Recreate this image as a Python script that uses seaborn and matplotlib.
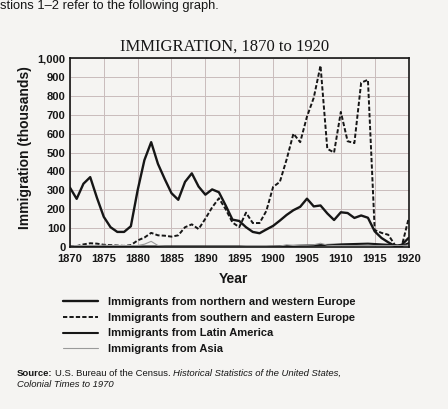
import pandas as pd
import numpy as np
import matplotlib
matplotlib.use('Agg')
import matplotlib.pyplot as plt
import seaborn as sns

# data (thousands of immigrants per year)
years = list(range(1870, 1921))
north_west = [315, 255, 335, 370, 260, 160, 105, 80, 80, 110,
              300, 460, 555, 440, 360, 285, 250, 345, 390, 320,
              277, 305, 290, 220, 145, 138, 105, 80, 73, 93,
              112, 140, 170, 195, 213, 256, 215, 220, 178, 143,
              184, 180, 154, 167, 155, 83, 48, 25, 5, 12,
              48]
south_east = [5, 5, 14, 20, 18, 12, 10, 8, 6, 10,
              35, 50, 75, 62, 60, 55, 62, 105, 120, 95,
              150, 210, 258, 200, 130, 105, 182, 127, 127, 191,
              318, 345, 464, 600, 555, 690, 790, 960, 520, 500,
              715, 560, 550, 870, 885, 90, 75, 65, 10, 5,
              150]
latin_america = [2, 2, 2, 2, 2, 2, 2, 2, 2, 2,
                 3, 3, 3, 3, 3, 3, 3, 3, 3, 3,
                 3, 3, 3, 3, 3, 3, 2, 2, 2, 2,
                 3, 4, 5, 6, 7, 8, 9, 10, 11, 12,
                 14, 15, 16, 17, 18, 16, 14, 12, 8, 6,
                 20]
asia = [5, 8, 8, 8, 8, 10, 8, 8, 8, 8,
        8, 15, 30, 8, 3, 2, 2, 2, 2, 2,
        3, 3, 3, 3, 3, 3, 3, 3, 3, 3,
        5, 5, 12, 8, 10, 10, 12, 20, 10, 8,
        8, 8, 8, 8, 8, 8, 8, 8, 8, 8,
        10]

groups = ['Immigrants from northern and western Europe',
          'Immigrants from southern and eastern Europe',
          'Immigrants from Latin America',
          'Immigrants from Asia']
x_ticks = list(range(1870, 1921, 5))
y_ticks = list(range(0, 1001, 100))
y_tick_labels = [f'{v:,}' for v in y_ticks]

df = pd.DataFrame({'Year': years,
                   groups[0]: north_west,
                   groups[1]: south_east,
                   groups[2]: latin_america,
                   groups[3]: asia})
long_df = df.melt(id_vars='Year', var_name='Group', value_name='Immigration')

sns.set_theme(style='white')
plt.rcParams['font.family'] = ['Liberation Sans', 'DejaVu Sans']

bg = '#f5f4f2'
ink = '#161616'
fig = plt.figure(figsize=(4.48, 4.09), dpi=100, facecolor=bg)
ax = fig.add_axes([0.156, 0.396, 0.756, 0.462])
ax.set_facecolor(bg)

line_styles = {
    groups[0]: dict(color=ink, lw=1.7, dashes=None),
    groups[1]: dict(color=ink, lw=1.4, dashes=(2.2, 1.1)),
    groups[2]: dict(color=ink, lw=1.5, dashes=None),
    groups[3]: dict(color='#9a9a9a', lw=0.8, dashes=None),
}

for name in groups:
    st = line_styles[name]
    sub = long_df[long_df['Group'] == name]
    sns.lineplot(data=sub, x='Year', y='Immigration', ax=ax, color=st['color'],
                 linewidth=st['lw'], label=name, legend=False)
    if st['dashes'] is not None:
        ax.lines[-1].set_dashes(st['dashes'])

ax.set_xlim(1870, 1920)
ax.set_ylim(0, 1000)
ax.set_xticks(x_ticks)
ax.set_yticks(y_ticks)
ax.set_yticklabels(y_tick_labels)
ax.tick_params(length=0, labelsize=8, labelcolor=ink)
ax.tick_params(axis='x', pad=5)
ax.tick_params(axis='y', pad=3)
for lab in ax.get_xticklabels() + ax.get_yticklabels():
    lab.set_fontweight('bold')
ax.set_xlabel('')
ax.set_ylabel('')
ax.grid(True, color='#c9bcbc', linewidth=0.7)
for sp in ax.spines.values():
    sp.set_color(ink)
    sp.set_linewidth(1.2)

handles, labels = ax.get_legend_handles_labels()
fig.legend(handles, labels, loc='upper left', bbox_to_anchor=(0.141, 0.273),
           frameon=False, prop={'weight': 'bold', 'size': 8},
           handlelength=3.15, handletextpad=0.9, labelspacing=0.5,
           borderpad=0, borderaxespad=0, labelcolor=ink)

fig.text(0.502, 1 - 51 / 409, 'IMMIGRATION, 1870 to 1920', family='Liberation Serif',
         size=12, ha='center', va='baseline', color=ink)
fig.text(0.056, 0.64, 'Immigration (thousands)', rotation=90, size=10,
         weight='bold', ha='center', va='center', color=ink)
fig.text(0.522, 1 - 283 / 409, 'Year', size=10, weight='bold', ha='center',
         va='baseline', color=ink)
fig.text(0.0, 1 - 9 / 409, 'stions 1\u20132 refer to the following graph.', size=9.3,
         ha='left', va='baseline', color=ink)

# source note, pieces placed one after another
r = fig.canvas.get_renderer()
W = fig.bbox.width
x = 17 / W
y1 = 1 - 376 / 409
for txt, kw in [('Source:', dict(weight='bold')),
                ('U.S. Bureau of the Census.', {}),
                ('Historical Statistics of the United States,', dict(style='italic'))]:
    t = fig.text(x, y1, txt, size=6.8, ha='left', va='baseline', color=ink, **kw)
    x = t.get_window_extent(r).x1 / W + 2.5 / W
fig.text(17 / W, 1 - 387 / 409, 'Colonial Times to 1970', size=6.8, style='italic',
         ha='left', va='baseline', color=ink)

fig.savefig('out.png', dpi=100, facecolor=bg)
